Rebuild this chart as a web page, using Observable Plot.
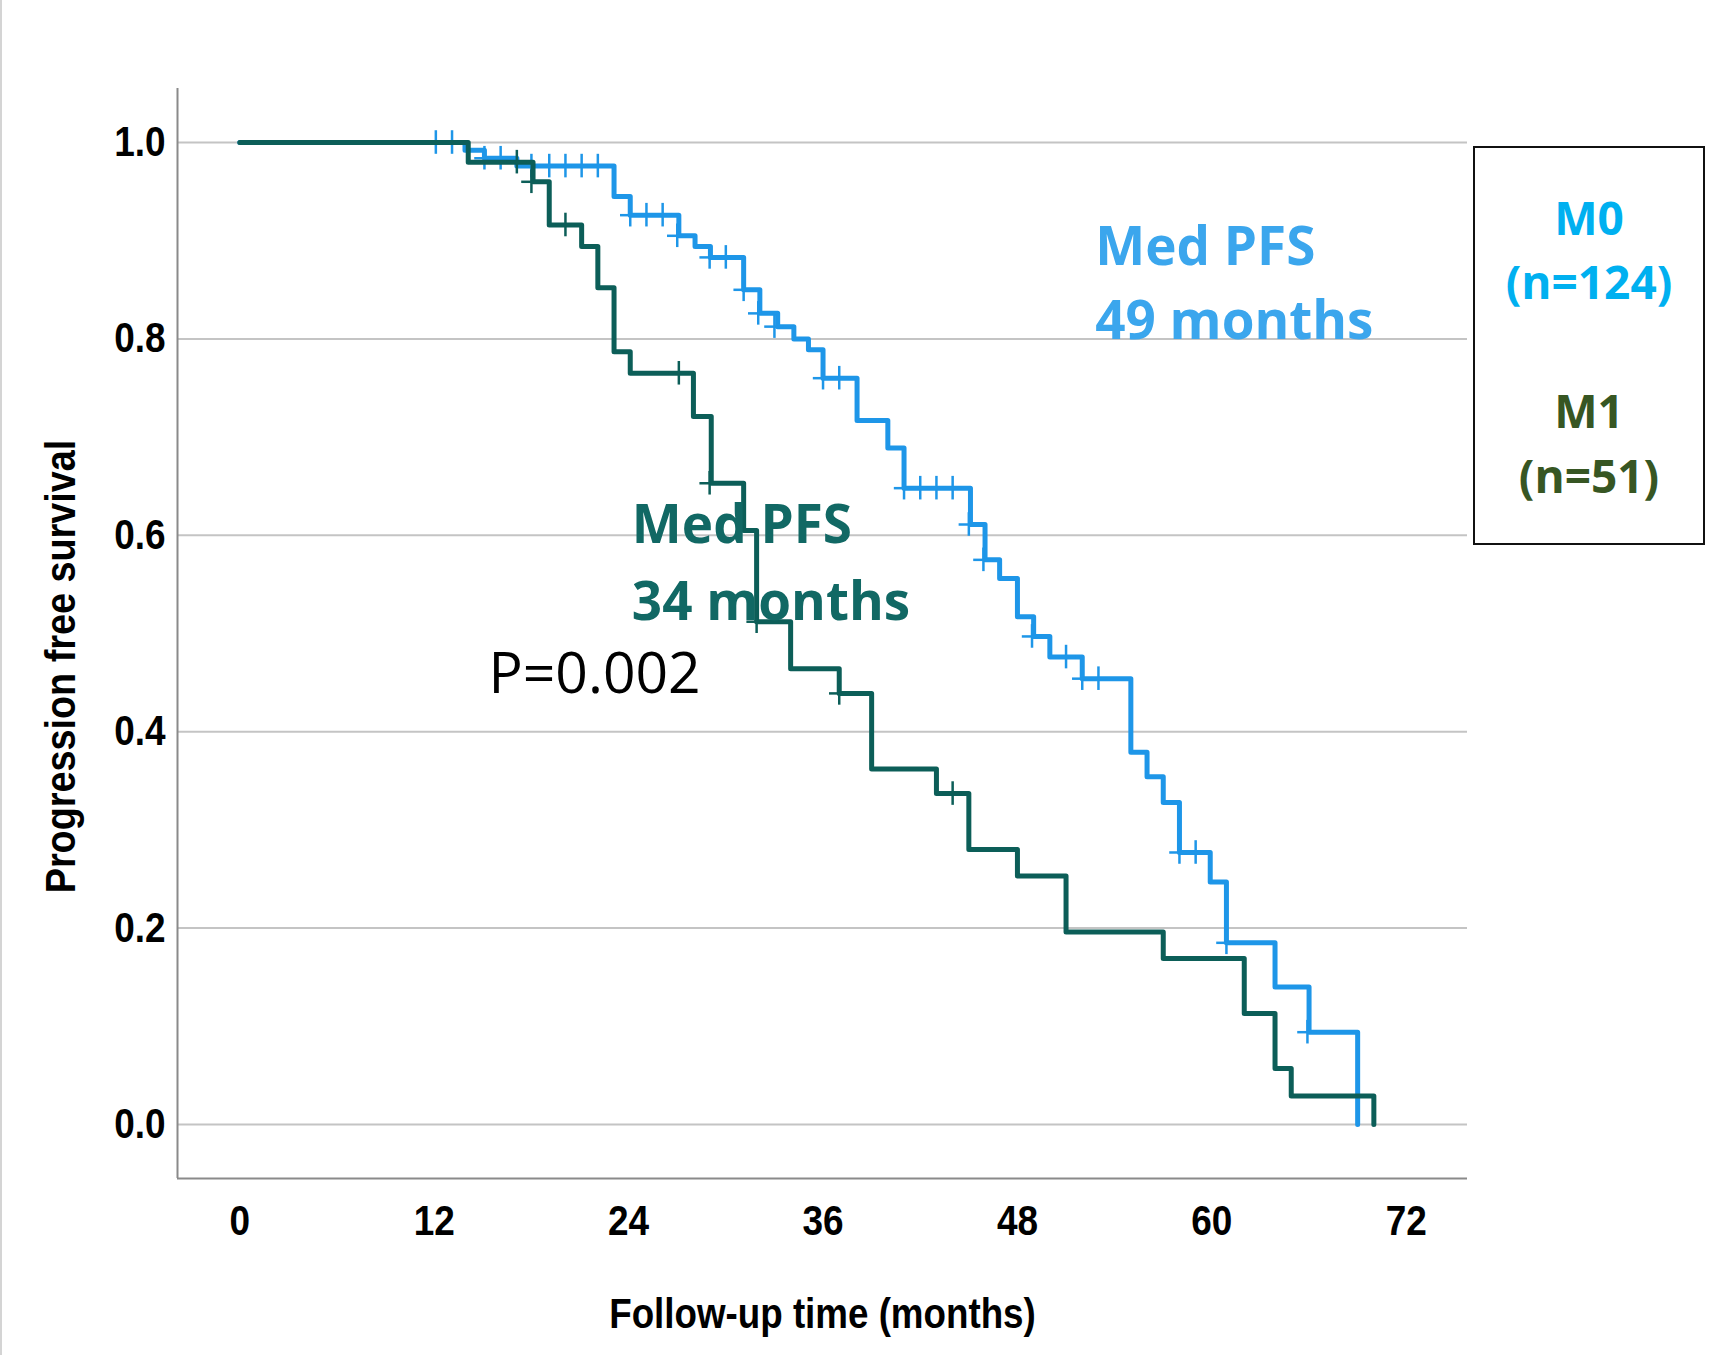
<!DOCTYPE html>
<html>
<head>
<meta charset="utf-8">
<script src="https://cdn.jsdelivr.net/npm/d3@7"></script>
<script src="https://cdn.jsdelivr.net/npm/@observablehq/plot@0.6"></script>
<style>
  html, body { margin: 0; padding: 0; background: #fff; }
  body { width: 1721px; height: 1355px; position: relative; overflow: hidden; }
  #edge { position: absolute; left: 0; top: 0; width: 2px; height: 1355px; background: #d4d4d4; }
  #chart { position: absolute; left: 0; top: 0; }
  #legend { position: absolute; left: 1473px; top: 146px; width: 228px; height: 395px;
            border: 2px solid #111; box-sizing: content-box; font-family: "Open Sans", sans-serif;
            font-weight: 700; text-align: center; }
  #legend div { position: absolute; left: 0; width: 100%; font-size: 46px; line-height: 1; }
</style>
</head>
<body>
<div id="edge"></div>
<div id="chart"></div>
<div id="legend">
  <div style="top:46px;color:#00b0f0">M0</div>
  <div style="top:110px;color:#00b0f0">(n=124)</div>
  <div style="top:239px;color:#375623">M1</div>
  <div style="top:304px;color:#375623">(n=51)</div>
</div>
<script>
// ---- Data (months, survival proportion) ----
const m0Time = [0, 13.9, 15.1, 17.1, 23.1, 24.1, 27.1, 28.1, 29.05, 31.1, 32.1, 33.2, 34.2, 35.1, 36.0, 38.1, 40.0, 41.0, 45.1, 46.0, 46.9, 48.0, 49.0, 50.0, 52.0, 55.0, 56.0, 57.0, 58.0, 59.9, 60.9, 63.9, 66.0, 69.0];
const m0Surv = [1.0, 0.992, 0.984, 0.976, 0.945, 0.926, 0.905, 0.894, 0.883, 0.850, 0.826, 0.8125, 0.800, 0.789, 0.760, 0.717, 0.689, 0.648, 0.611, 0.575, 0.556, 0.517, 0.497, 0.476, 0.454, 0.379, 0.354, 0.328, 0.277, 0.247, 0.185, 0.140, 0.094, 0.0];
const m0CensorTime = [12.1, 13.1, 15.1, 16.1, 18.0, 19.1, 20.1, 21.1, 22.1, 24.1, 25.1, 26.1, 27.0, 29.0, 30.0, 31.1, 32.0, 33.0, 36.0, 37.0, 41.0, 42.0, 43.0, 44.0, 45.0, 45.9, 48.9, 51.0, 52.0, 53.0, 58.0, 59.0, 60.9, 65.9];
const m0CensorSurv = [1.0, 1.0, 0.984, 0.984, 0.976, 0.976, 0.976, 0.976, 0.976, 0.926, 0.926, 0.926, 0.905, 0.883, 0.883, 0.850, 0.826, 0.8125, 0.760, 0.760, 0.648, 0.648, 0.648, 0.648, 0.611, 0.575, 0.497, 0.476, 0.454, 0.454, 0.277, 0.277, 0.185, 0.094];

const m1Time = [0, 14.1, 18.1, 19.1, 21.1, 22.1, 23.1, 24.1, 28.0, 29.1, 31.1, 31.9, 34.0, 37.0, 39.0, 43.0, 45.0, 48.0, 51.0, 57.0, 62.0, 63.9, 64.9, 70.0];
const m1Surv = [1.0, 0.980, 0.960, 0.916, 0.894, 0.852, 0.787, 0.765, 0.721, 0.653, 0.605, 0.512, 0.464, 0.439, 0.362, 0.337, 0.280, 0.253, 0.196, 0.169, 0.113, 0.057, 0.029, 0.0];
const m1CensorTime = [17.1, 18.0, 20.1, 27.1, 29.0, 31.9, 37.0, 44.0];
const m1CensorSurv = [0.980, 0.960, 0.916, 0.765, 0.653, 0.512, 0.439, 0.337];

const xTicks = [0, 12, 24, 36, 48, 60, 72];
const yTicks = [0.0, 0.2, 0.4, 0.6, 0.8, 1.0];
const xDomain = [-3.846, 75.78];
const yDomain = [-0.055, 1.055];

const boldNotes = [
  {t: 52.8, s: 0.893, text: "Med PFS", color: "#3ba6ed"},
  {t: 52.8, s: 0.817, text: "49 months", color: "#3ba6ed"},
  {t: 24.2, s: 0.609, text: "Med PFS", color: "#116864"},
  {t: 24.2, s: 0.531, text: "34 months", color: "#116864"}
];
const plainNotes = [
  {t: 15.35, s: 0.458, text: "P=0.002", color: "#000000"}
];

// ---- Build tables ----
const m0 = m0Time.map((t, i) => ({t, s: m0Surv[i]}));
const m1 = m1Time.map((t, i) => ({t, s: m1Surv[i]}));
const c0 = m0CensorTime.map((t, i) => ({t, s: m0CensorSurv[i]}));
const c1 = m1CensorTime.map((t, i) => ({t, s: m1CensorSurv[i]}));

const blue = "#1e96e8";
const dark = "#0c5e58";
const axisFont = "'Liberation Sans', Arial, sans-serif";

function censorMarks(data, color) {
  return [
    Plot.ruleX(data, {x: "t", y1: d => d.s - 0.012, y2: d => d.s + 0.012, stroke: color, strokeWidth: 2.5}),
    Plot.ruleY(data, {y: "s", x1: d => d.t - 0.6, x2: d => d.t + 0.6, stroke: color, strokeWidth: 2.5})
  ];
}

const chart = Plot.plot({
  width: 1721,
  height: 1355,
  marginLeft: 177,
  marginRight: 254,
  marginTop: 88,
  marginBottom: 177,
  style: {fontFamily: axisFont, background: "transparent", color: "#000"},
  x: {domain: xDomain},
  y: {domain: yDomain},
  marks: [
    Plot.ruleY(yTicks, {stroke: "#c4c4c4", strokeWidth: 2}),
    Plot.ruleX([xDomain[0]], {stroke: "#8a8a8a", strokeWidth: 2}),
    Plot.ruleY([yDomain[0]], {stroke: "#8a8a8a", strokeWidth: 2}),
    Plot.axisX({ticks: xTicks, tickSize: 0, tickPadding: 27, fontSize: 42, fontWeight: "bold",
      label: "Follow-up time (months)", labelAnchor: "center", labelArrow: "none", labelOffset: 149}),
    Plot.axisY({ticks: yTicks, tickSize: 0, tickPadding: 12, fontSize: 42, fontWeight: "bold",
      tickFormat: d3.format(".1f"),
      label: "Progression free survival", labelAnchor: "center", labelArrow: "none", labelOffset: 132}),
    Plot.line(m0, {x: "t", y: "s", curve: "step-after", stroke: blue, strokeWidth: 5}),
    ...censorMarks(c0, blue),
    Plot.line(m1, {x: "t", y: "s", curve: "step-after", stroke: dark, strokeWidth: 5}),
    ...censorMarks(c1, dark),
    Plot.text(boldNotes, {x: "t", y: "s", text: "text", fill: "color", fontWeight: 700,
      fontSize: 53, textAnchor: "start", fontFamily: "'Open Sans', sans-serif"}),
    Plot.text(plainNotes, {x: "t", y: "s", text: "text", fill: "color", fontWeight: 400,
      fontSize: 57, textAnchor: "start", fontFamily: "'Open Sans', sans-serif"})
  ]
});
document.getElementById("chart").appendChild(chart);

// SPSS-style narrow lettering: condense the axis texts along their reading direction
function condense(selector, k, size, shift) {
  chart.querySelectorAll(selector).forEach(t => {
    if (size) t.setAttribute("font-size", size);
    const x = t.getAttribute("x");
    if (x != null && x !== "") t.setAttribute("x", +x / k);
    const tr = t.getAttribute("transform") || "";
    t.setAttribute("transform", ((shift || "") + " " + tr + ` scale(${k},1)`).trim());
  });
}
condense('[aria-label="x-axis tick label"] text', 0.88);
condense('[aria-label="y-axis tick label"] text', 0.88);
condense('[aria-label="x-axis label"] text', 0.875, 42);
condense('[aria-label="y-axis label"] text', 0.9, 42, "translate(0,33)");
</script>
</body>
</html>
